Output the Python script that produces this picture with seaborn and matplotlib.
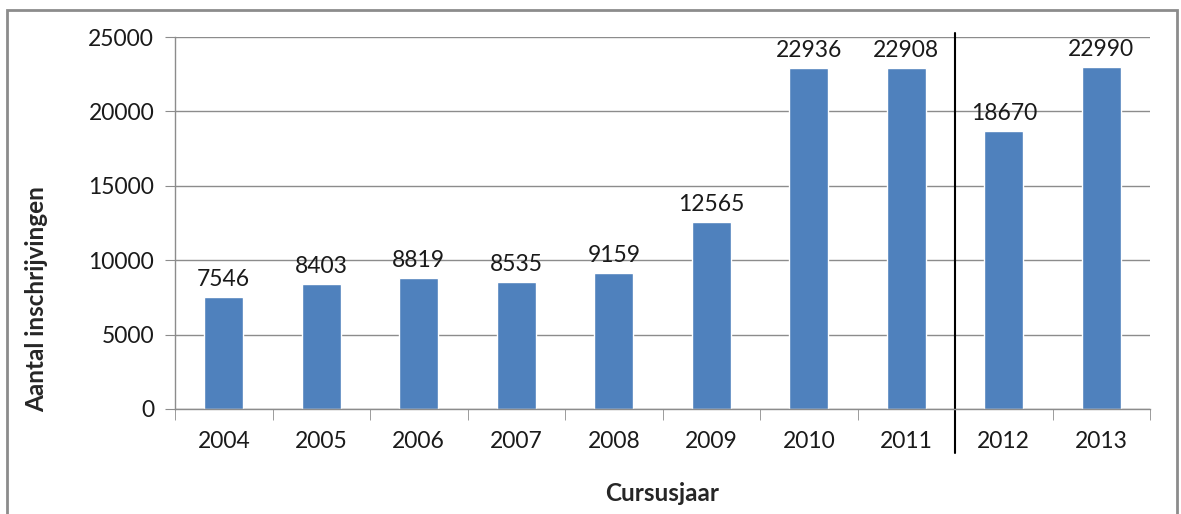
import matplotlib
matplotlib.use("Agg")
import matplotlib.pyplot as plt
import seaborn as sns
import pandas as pd
from matplotlib.patches import Rectangle

# data
years = ["2004", "2005", "2006", "2007", "2008", "2009", "2010", "2011", "2012", "2013"]
inschrijvingen = [7546, 8403, 8819, 8535, 9159, 12565, 22936, 22908, 18670, 22990]

df = pd.DataFrame({"Cursusjaar": years, "Aantal": inschrijvingen})

sns.set_style("white")
plt.rcParams["font.family"] = ["Lato", "DejaVu Sans"]

fig = plt.figure(figsize=(11.81, 5.14), dpi=100)
ax = fig.add_axes([0.1482, 0.2043, 0.9738 - 0.1482, 0.928 - 0.2043])

sns.barplot(data=df, x="Cursusjaar", y="Aantal", color="#4F81BD", saturation=1,
            width=0.4, ax=ax)

for i, v in enumerate(inschrijvingen):
    ax.annotate(str(v), (i, v), xytext=(0, 5), textcoords="offset points",
                ha="center", va="bottom", fontsize=16.5, color="#1a1a1a")

ax.set_ylim(0, 25000)
ax.set_xlim(-0.5, len(years) - 0.5)
ax.set_yticks(range(0, 25001, 5000))
ax.yaxis.grid(True, color="#8c8c8c", linewidth=1)
ax.set_axisbelow(True)

for s in ["top", "right"]:
    ax.spines[s].set_visible(False)
for s in ["left", "bottom"]:
    ax.spines[s].set_color("#8c8c8c")
    ax.spines[s].set_linewidth(1)

ax.tick_params(axis="y", left=True, length=7, color="#8c8c8c", labelsize=16.5,
               pad=8, labelcolor="#1a1a1a")
ax.tick_params(axis="x", bottom=False, labelsize=16.5, pad=12, labelcolor="#1a1a1a")
ax.set_xticks([i - 0.5 for i in range(len(years) + 1)], minor=True)
ax.tick_params(axis="x", which="minor", bottom=True, length=8, color="#8c8c8c")

ax.set_xlabel("Cursusjaar", fontsize=17.5, fontweight="bold", labelpad=22)
ax.set_ylabel("Aantal inschrijvingen", fontsize=17.5, fontweight="bold", va="center")
ax.yaxis.set_label_coords(-0.142, 0.296)

# separator between 2011 and 2012
ax.axvline(7.5, ymin=-0.118, ymax=1.011, color="black", linewidth=1.5, clip_on=False)

# outer frame
fig.patches.append(Rectangle((7 / 1181, -0.05), 1170 / 1181, 1.05 - 10 / 514,
                             transform=fig.transFigure, fill=False,
                             edgecolor="#8c8c8c", linewidth=2))

fig.savefig("out.png", dpi=100)
